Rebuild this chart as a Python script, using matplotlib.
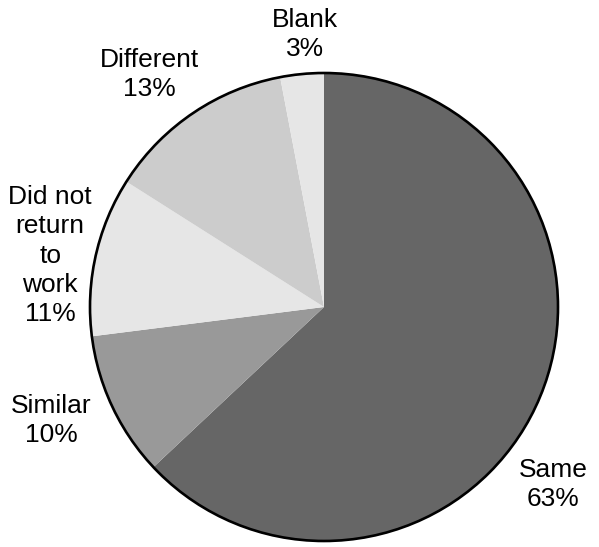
import numpy as np
import matplotlib

matplotlib.use("Agg")
import matplotlib.pyplot as plt
from matplotlib.patches import Circle

plt.rcParams["font.family"] = ["Liberation Sans", "DejaVu Sans"]

# Share of responses, in drawing order (clockwise from 12 o'clock)
categories = ["Same", "Similar", "Did not\nreturn\nto\nwork", "Different", "Blank"]
percents = [63, 10, 11, 13, 3]
colors = ["#666666", "#999999", "#e6e6e6", "#cccccc", "#e6e6e6"]

# Label placement in radius units (x, y) relative to the pie centre
label_pos = [(0.98, -0.76), (-1.165, -0.485), (-1.17, 0.22), (-0.745, 0.995), (-0.08, 1.165)]

W, H = 599, 547
cx, cy, r = 324, 307, 234  # pie centre and radius in pixels

fig = plt.figure(figsize=(W / 100, H / 100), dpi=100)
ax = fig.add_axes([0, 0, 1, 1])

wedges, _ = ax.pie(
    percents,
    colors=colors,
    startangle=90,
    counterclock=False,
    radius=1.0,
    wedgeprops={"linewidth": 0},
)
ax.add_patch(Circle((0, 0), 1.0, fill=False, edgecolor="black", linewidth=1.9))

for name, pct, (lx, ly) in zip(categories, percents, label_pos):
    ax.text(lx, ly, f"{name}\n{pct}%", ha="center", va="center",
            fontsize=19, linespacing=1.28, color="black")

ax.set_xlim(-cx / r, (W - cx) / r)
ax.set_ylim(-(H - cy) / r, cy / r)
ax.set_aspect("equal")
ax.axis("off")

fig.savefig("out.png", dpi=100)
